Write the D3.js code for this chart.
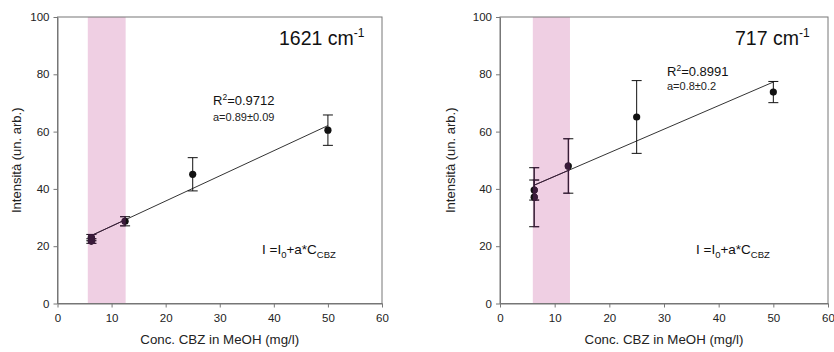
<!DOCTYPE html>
<html><head><meta charset="utf-8">
<script src="https://cdn.jsdelivr.net/npm/d3@7"></script>
<style>
body{margin:0;background:#fff;}
text{font-family:"Liberation Sans",Arial,sans-serif;}
</style></head><body>
<svg id="c" width="834" height="352"></svg>
<script>
// ---- data ----
const xTicks = [0,10,20,30,40,50,60];
const yTicks = [0,20,40,60,80,100];
const xTitle = "Conc. CBZ in MeOH (mg/l)";
const yTitle = "Intensità (un. arb.)";

const conc1 = [6.25, 6.25, 12.5, 25, 50];
const int1  = [23.0, 21.8, 28.7, 45.1, 60.5];
const err1  = [1.1, 0.8, 1.6, 5.8, 5.3];
const fitX1 = [6.25, 50];
const fitY1 = [23.7, 62.1];
const band1 = [5.6, 12.6];

const conc2 = [6.25, 6.25, 12.5, 25, 50];
const int2  = [39.6, 37.1, 48.0, 65.1, 73.8];
const err2  = [3.5, 10.3, 9.5, 12.7, 3.7];
const fitX2 = [6.25, 50];
const fitY2 = [41.3, 77.3];
const band2 = [6.0, 12.8];

const panels = [
  {left:57.5, right:382, conc:conc1, val:int1, err:err1, fx:fitX1, fy:fitY1, band:band1,
   title:"1621 cm", r2:"=0.9712", a:"a=0.89±0.09", yOff:37,
   titlePos:[279,45], r2Pos:[213,105], aPos:[213,121], eqPos:[262,254]},
  {left:500, right:828, conc:conc2, val:int2, err:err2, fx:fitX2, fy:fitY2, band:band2,
   title:"717 cm", r2:"=0.8991", a:"a=0.8±0.2", yOff:45,
   titlePos:[735,45], r2Pos:[667,76], aPos:[667,90], eqPos:[696,254]}
];

const svg = d3.select("#c");
const plotTop = 17, plotBottom = 303.5;

panels.forEach((p,i)=>{
  const x = d3.scaleLinear().domain([0,60]).range([p.left,p.right]);
  const y = d3.scaleLinear().domain([0,100]).range([plotBottom,plotTop]);
  const g = svg.append("g");

  // band
  const clipId = "clip"+i;
  g.append("clipPath").attr("id",clipId).append("rect")
    .attr("x",x(p.band[0])).attr("y",y(100)).attr("width",x(p.band[1])-x(p.band[0])).attr("height",y(0)-y(100));
  g.append("rect").attr("x",x(p.band[0])).attr("y",y(100))
    .attr("width",x(p.band[1])-x(p.band[0])).attr("height",y(0)-y(100))
    .attr("fill","#efcfe3");

  // frame
  g.append("rect").attr("x",x(0)).attr("y",y(100)).attr("width",x(60)-x(0)).attr("height",y(0)-y(100))
    .attr("fill","none").attr("stroke","#777").attr("stroke-width",1);

  // axes
  const ax = g.append("g").attr("transform",`translate(0,${y(0)})`)
    .call(d3.axisBottom(x).tickValues(xTicks).tickSize(4).tickSizeOuter(0).tickPadding(6));
  const ay = g.append("g").attr("transform",`translate(${x(0)},0)`)
    .call(d3.axisLeft(y).tickValues(yTicks).tickSize(4).tickSizeOuter(0).tickPadding(4));
  [ax,ay].forEach(a=>{
    a.select(".domain").attr("stroke","#777");
    a.selectAll(".tick line").attr("stroke","#777");
    a.selectAll(".tick text").attr("fill","#222").style("font-size","11.5px");
  });

  // axis titles
  g.append("text").attr("x",(x(0)+x(60))/2).attr("y",344).attr("text-anchor","middle")
    .style("font-size","13.3px").attr("fill","#222").text(xTitle);
  g.append("text").attr("transform",`translate(${x(0)-p.yOff},${(y(0)+y(100))/2}) rotate(-90)`)
    .attr("text-anchor","middle").style("font-size","13px").attr("fill","#222").text(yTitle);

  // marks
  function drawMarks(layer,color){
    layer.append("line").attr("x1",x(p.fx[0])).attr("y1",y(p.fy[0]))
      .attr("x2",x(p.fx[1])).attr("y2",y(p.fy[1])).attr("stroke",color).attr("stroke-width",1).attr("opacity",0.85);
    p.conc.forEach((c,k)=>{
      const cx = x(c), hi = y(p.val[k]+p.err[k]), lo = y(p.val[k]-p.err[k]);
      layer.append("line").attr("x1",cx).attr("x2",cx).attr("y1",hi).attr("y2",lo).attr("stroke",color).attr("stroke-width",1);
      [hi,lo].forEach(yy=>layer.append("line").attr("x1",cx-5).attr("x2",cx+5).attr("y1",yy).attr("y2",yy).attr("stroke",color).attr("stroke-width",1));
      layer.append("circle").attr("cx",cx).attr("cy",y(p.val[k])).attr("r",3.6).attr("fill",color);
    });
  }
  drawMarks(g.append("g"),"#111");
  drawMarks(g.append("g").attr("clip-path",`url(#${clipId})`),"#3a1a3a");

  // texts
  const t = g.append("text").attr("x",p.titlePos[0]).attr("y",p.titlePos[1]).style("font-size","19.5px").attr("fill","#111");
  t.append("tspan").text(p.title);
  t.append("tspan").attr("dy",-8).style("font-size","12px").text("-1");

  const r = g.append("text").attr("x",p.r2Pos[0]).attr("y",p.r2Pos[1]).style("font-size","13px").attr("fill","#111");
  r.append("tspan").text("R");
  r.append("tspan").attr("dy",-5).style("font-size","8.5px").text("2");
  r.append("tspan").attr("dy",5).text(p.r2);

  g.append("text").attr("x",p.aPos[0]).attr("y",p.aPos[1]).style("font-size","11px").attr("fill","#222").text(p.a);

  const e = g.append("text").attr("x",p.eqPos[0]).attr("y",p.eqPos[1]).style("font-size","13.5px").attr("fill","#111");
  e.append("tspan").text("I =I");
  e.append("tspan").attr("dy",4).style("font-size","9.5px").text("0");
  e.append("tspan").attr("dy",-4).text("+a*C");
  e.append("tspan").attr("dy",4).style("font-size","9.5px").text("CBZ");
});
</script>
</body></html>
